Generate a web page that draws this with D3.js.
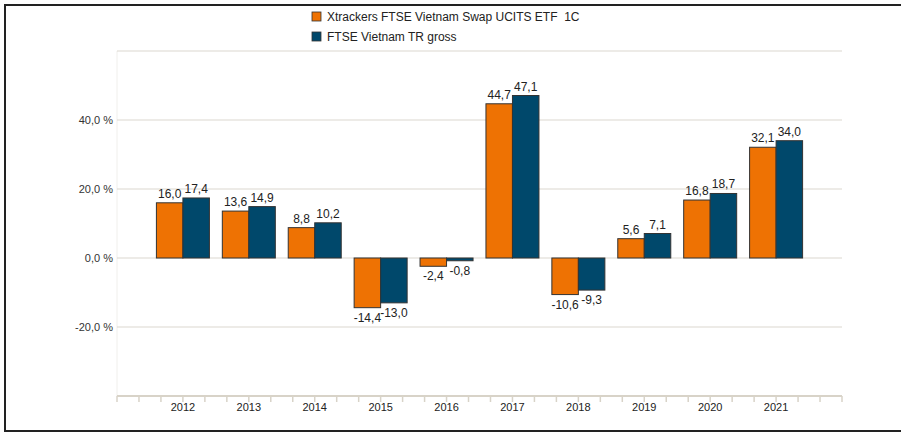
<!DOCTYPE html>
<html>
<head>
<meta charset="utf-8">
<script src="https://cdn.jsdelivr.net/npm/d3@7"></script>
<style>
  body { margin: 0; background: #fff; }
  svg { display: block; font-family: "Liberation Sans", Arial, sans-serif; }
</style>
</head>
<body>
<div id="chart"></div>
<script>
const years = [2012, 2013, 2014, 2015, 2016, 2017, 2018, 2019, 2020, 2021];
const etfValues = [16.0, 13.6, 8.8, -14.4, -2.4, 44.7, -10.6, 5.6, 16.8, 32.1];
const indexValues = [17.4, 14.9, 10.2, -13.0, -0.8, 47.1, -9.3, 7.1, 18.7, 34.0];
const seriesNames = ['Xtrackers FTSE Vietnam Swap UCITS ETF  1C', 'FTSE Vietnam TR gross'];
const yGrid = [-20, 0, 20, 40, 60];
const yLabels = [-20, 0, 20, 40];

const width = 901;
const height = 433;
const colors = ['#EE7203', '#00486B'];

const svg = d3.select('#chart').append('svg')
  .attr('width', width)
  .attr('height', height);

// frame
svg.append('rect')
  .attr('x', 5).attr('y', 5)
  .attr('width', width + 10).attr('height', 426)
  .attr('fill', 'none')
  .attr('stroke', '#222')
  .attr('stroke-width', 2);

const x = d3.scaleLinear().domain([2011, 2022]).range([117, 842]);
const y = d3.scaleLinear().domain([-40, 60]).range([396, 51]);
const barW = 26.5;

// comma decimals, plain hyphen for minus
const fmt = (v) => d3.format('.1f')(v).replace('.', ',').replace('\u2212', '-');

// faint y axis line
svg.append('line')
  .attr('x1', 117).attr('x2', 117)
  .attr('y1', y(60)).attr('y2', y(-40))
  .attr('stroke', '#f0efec');

// grid
svg.selectAll('line.grid')
  .data(yGrid)
  .join('line')
  .attr('class', 'grid')
  .attr('x1', 117).attr('x2', 842)
  .attr('y1', (d) => y(d)).attr('y2', (d) => y(d))
  .attr('stroke', '#dcd8d0')
  .attr('stroke-width', 1.2);

svg.selectAll('text.ylab')
  .data(yLabels)
  .join('text')
  .attr('class', 'ylab')
  .attr('x', 113)
  .attr('y', (d) => y(d))
  .attr('dy', '0.35em')
  .attr('text-anchor', 'end')
  .attr('font-size', 11)
  .attr('fill', '#333')
  .text((d) => `${fmt(d)} %`);

// x axis with minor ticks
const minor = d3.range(0, 34).map((i) => 2011 + i / 3);
svg.selectAll('line.xtick')
  .data(minor)
  .join('line')
  .attr('class', 'xtick')
  .attr('x1', (d) => x(d)).attr('x2', (d) => x(d))
  .attr('y1', y(-40)).attr('y2', y(-40) + 6)
  .attr('stroke', '#d8d3c8')
  .attr('stroke-width', 1.5);

svg.append('line')
  .attr('x1', 117).attr('x2', 842)
  .attr('y1', y(-40)).attr('y2', y(-40))
  .attr('stroke', '#d8d3c8')
  .attr('stroke-width', 2);

svg.selectAll('text.xlab')
  .data(years)
  .join('text')
  .attr('class', 'xlab')
  .attr('x', (d) => x(d))
  .attr('y', y(-40) + 7)
  .attr('dy', '0.71em')
  .attr('text-anchor', 'middle')
  .attr('font-size', 11)
  .attr('fill', '#222')
  .attr('paint-order', 'stroke')
  .attr('stroke', '#fff')
  .attr('stroke-width', 3)
  .text((d) => d);

// bars
const series = [etfValues, indexValues];
series.forEach((vals, s) => {
  const data = years.map((yr, i) => ({ yr, v: vals[i] }));
  const bx = (d) => x(d.yr) + (s === 0 ? -barW : 0);
  svg.selectAll(`rect.bar${s}`)
    .data(data)
    .join('rect')
    .attr('class', `bar${s}`)
    .attr('x', bx)
    .attr('y', (d) => y(Math.max(0, d.v)))
    .attr('width', barW)
    .attr('height', (d) => Math.abs(y(d.v) - y(0)))
    .attr('fill', colors[s])
    .attr('stroke', '#333')
    .attr('stroke-width', 1);

  svg.selectAll(`text.val${s}`)
    .data(data)
    .join('text')
    .attr('class', `val${s}`)
    .attr('x', (d) => bx(d) + barW / 2)
    .attr('y', (d) => (d.v >= 0 ? y(d.v) - 5 : y(d.v) + 5))
    .attr('dy', (d) => (d.v >= 0 ? '0' : '0.75em'))
    .attr('text-anchor', 'middle')
    .attr('font-size', 12)
    .attr('fill', '#222')
    .text((d) => fmt(d.v));
});

// legend
const legend = svg.append('g');
seriesNames.forEach((name, i) => {
  legend.append('rect')
    .attr('x', 312).attr('y', 12 + i * 20)
    .attr('width', 9).attr('height', 9)
    .attr('fill', colors[i])
    .attr('stroke', '#333')
    .attr('stroke-width', 0.8);
  legend.append('text')
    .attr('x', 327).attr('y', 16.5 + i * 20)
    .attr('dy', '0.35em')
    .attr('font-size', 12)
    .attr('fill', '#222')
    .attr('xml:space', 'preserve')
    .style('white-space', 'pre')
    .text(name);
});
</script>
</body>
</html>
